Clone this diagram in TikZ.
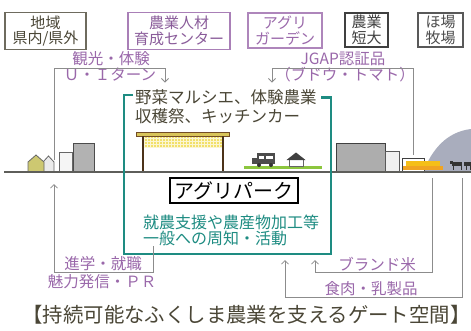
\documentclass[tikz,border=0pt]{standalone}
\usepackage{fontspec}
\setmainfont{Noto Sans CJK JP}
\usetikzlibrary{arrows.meta}

\definecolor{olivetxt}{HTML}{4A4636}
\definecolor{purp}{HTML}{9A68AA}
\definecolor{purpdk}{HTML}{8A5C9A}
\definecolor{teal2}{HTML}{1E8C82}
\definecolor{connc}{HTML}{8C8C8C}
\definecolor{groundc}{HTML}{5E5E5A}
\definecolor{roofc}{HTML}{D8C45A}
\definecolor{panelc}{HTML}{F2E06A}
\definecolor{grassc}{HTML}{8CC63E}
\definecolor{hillc}{HTML}{A9ADBD}
\definecolor{hayc}{HTML}{F0A422}

\tikzset{
  topbox/.style={draw, line width=1.1pt, align=center, inner sep=0pt,
    font=\fontsize{15}{15.5}\selectfont},
  lbl/.style={text=purp, inner sep=0pt, font=\fontsize{15.5}{16}\selectfont},
  conn/.style={draw=connc, line width=0.8pt},
  tip/.style={-{Straight Barb[length=3.5pt,width=7pt]}},
  parktxt/.style={text=olivetxt, inner sep=0pt, anchor=west,
    font=\fontsize{16.5}{17}\selectfont},
  tealtxt/.style={text=teal2, inner sep=0pt, anchor=west,
    font=\fontsize{16}{16.5}\selectfont},
  outl/.style={draw=#1, line width=0.8pt},
}

\begin{document}
\begin{tikzpicture}[x=1pt,y=-1pt]
\useasboundingbox (0,0) rectangle (471,330);
\fill[white] (0,0) rectangle (471,330);

% ---- top row of partner boxes ----
\node[topbox, draw=olivetxt!80, text=olivetxt, minimum width=81pt, minimum height=37pt]
  (region) at (45.5,31) {地域\\県内/県外};
\node[topbox, draw=purp!85, text=purpdk, minimum width=102pt, minimum height=37pt]
  (center) at (179,31) {農業人材\\育成センター};
\node[topbox, draw=purp!80, text=purp, minimum width=74pt, minimum height=35pt]
  (garden) at (285,30.5) {アグリ\\ガーデン};
\node[topbox, draw=black!75, text=black!75, minimum width=43pt, minimum height=34pt]
  (college) at (366.5,30) {農業\\短大};
\node[topbox, draw=black!65, text=black!70, minimum width=45pt, minimum height=34pt]
  (ranch) at (440.5,30) {ほ場\\牧場};

% ---- scenery on the ground line ----
% hill with pasture
\fill[hillc] (423,172) .. controls (432,150) and (446,132) .. (471,129) -- (471,172) -- cycle;
% cattle
\fill[black!80] (452,162) rectangle (462,166);
\fill[black!80] (450,161) rectangle (453,164);
\draw[black!80, line width=0.9pt] (453,166) -- (453,170) (461,166) -- (461,170);
\fill[black!80] (464,162) rectangle (471,166);
\draw[black!80, line width=0.9pt] (466,166) -- (466,170) (470,166) -- (470,170);

% houses on the left
\draw[outl=black!60, fill=black!8] (43,172) -- (43,162) -- (48.5,156) -- (54,162) -- (54,172);
\draw[outl=black!60, fill=olive!45!white] (28,172) -- (28,162) -- (36,155) -- (44,162) -- (44,172);
\draw[outl=black!60, fill=black!4] (59,152) rectangle (72,172);
\draw[outl=black!70, fill=black!30] (73,143) rectangle (94,172);

% market pavilion
\fill[panelc] (144,136) rectangle (223,148);
\draw[white!70!panelc, line width=0.5pt, step=3pt] (144,136) grid (223,148);
\draw[outl=brown!60!black, fill=roofc] (136,132.5) rectangle (229,136);
\draw[brown!40!black, line width=1.6pt] (143,136) -- (143,172) (223,136) -- (223,172);

% lawn, food truck, tent
\fill[grassc] (244,165.5) rectangle (322,168.5);
\fill[black!70] (257,153) rectangle (275,164);
\fill[black!70] (252,157.5) rectangle (258,164);
\fill[white] (259,155.5) rectangle (264,158.5);
\fill[white] (266,155.5) rectangle (273,158.5);
\fill[black!80] (259,165) circle (2) (271,165) circle (2);
\draw[outl=black!60, fill=white] (289,159) rectangle (303,166);
\fill[black!75] (286.5,160) -- (296,152.5) -- (305.5,160) -- cycle;

% buildings on the right
\draw[outl=black!75, fill=black!32] (336,143) rectangle (385,172);
\draw[outl=black!65, fill=black!6] (385,151) rectangle (399,172);
\draw[outl=black!75, fill=white] (402,158) rectangle (424,172);
\fill[hayc!70!yellow] (406,161) rectangle (440,166);
\fill[hayc] (403,166) rectangle (443,170);

% ground line
\draw[groundc, line width=1.8pt] (4,172) -- (471,172);

% ---- gate space frame ----
\draw[teal2, line width=2.6pt]
  (133,95) -- (124,95) -- (124,254) -- (331,254) -- (331,97.5) -- (321,97.5);

\node[parktxt] (marche) at (135,97) {野菜マルシエ、体験農業};
\node[parktxt] (harvest) at (135,116) {収穫祭、キッチンカー};
\node[draw=black, line width=1.6pt, fill=white, inner xsep=4pt, inner ysep=1pt,
  minimum width=128pt, minimum height=25pt, font=\fontsize{20}{20}\selectfont]
  (park) at (234,190.5) {アグリパーク};
\node[tealtxt] (support) at (143,222.5) {就農支援や農産物加工等};
\node[tealtxt] (public) at (143,238.5) {一般への周知・活動};

% ---- flow labels ----
\node[lbl] (tour) at (111,59) {観光・体験};
\node[lbl] (uiturn) at (110,75) {Ｕ・Ｉターン};
\node[lbl] (jgap) at (343,59) {JGAP認証品};
\node[lbl] (grape) at (345,75) {（ブドウ・トマト）};
\node[lbl] (study) at (103,264) {進学・就職};
\node[lbl] (pr) at (102,281.5) {魅力発信・ＰＲ};
\node[lbl] (rice) at (377,264) {ブランド米};
\node[lbl] (meat) at (371,289) {食肉・乳製品};

% ---- connector end points ----
\coordinate (townTop) at (54,160);
\coordinate (townBot) at (54,184);
\coordinate (inTour) at (165,82.5);
\coordinate (farmTop) at (413,155);
\coordinate (inJgap) at (272,82.5);
\coordinate (outPR) at (153,246);
\coordinate (riceSrc) at (432,178);
\coordinate (meatSrc) at (462,178);
\coordinate (inRice) at (315,260);
\coordinate (inMeat) at (285,260);

% ---- connectors ----
\draw[conn, tip] (townTop) |- (inTour |- 0,68) -- (inTour);
\draw[conn, tip] (farmTop) |- (inJgap |- 0,68) -- (inJgap);
\draw[conn, tip] (outPR) |- (townBot |- 0,272) -- (townBot);
\draw[conn, tip] (riceSrc) |- (inRice |- 0,272) -- (inRice);
\draw[conn, tip] (meatSrc) |- (inMeat |- 0,297) -- (inMeat);

% ---- caption ----
\node[text=olivetxt, inner sep=0pt, font=\fontsize{20.4}{21}\selectfont]
  (caption) at (246.5,314.5) {【持続可能なふくしま農業を支えるゲート空間】};
\end{tikzpicture}
\end{document}
